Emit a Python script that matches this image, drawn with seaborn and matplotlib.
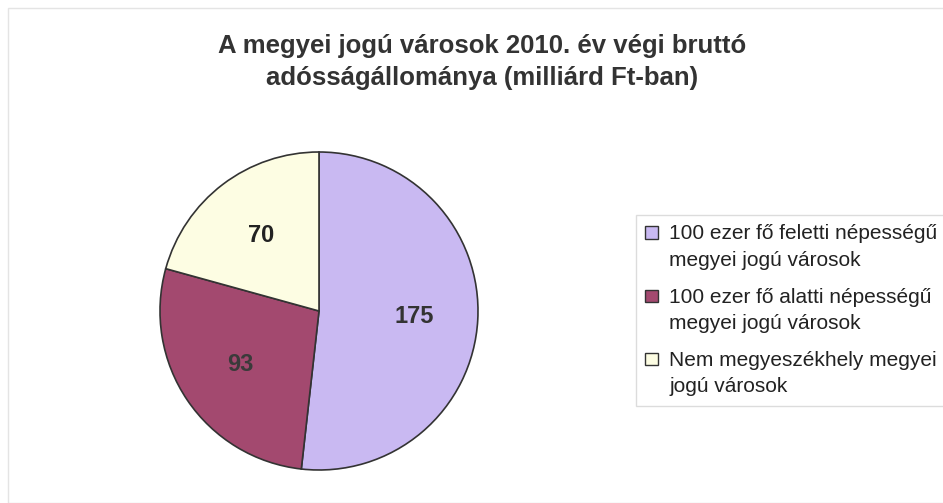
import matplotlib
matplotlib.use("Agg")
import matplotlib.pyplot as plt
import seaborn as sns
from matplotlib.patches import Rectangle
from matplotlib.legend_handler import HandlerPatch

sns.set_theme(style="white")
plt.rcParams["font.family"] = ["Liberation Sans", "DejaVu Sans"]

categories = [
    "100 ezer fő feletti népességű\nmegyei jogú városok",
    "100 ezer fő alatti népességű\nmegyei jogú városok",
    "Nem megyeszékhely megyei\njogú városok",
]
values = [175, 93, 70]
colors = ["#c9b9f2", "#a3496f", "#fdfde3"]
label_colors = ["#333333", "#3a3a3a", "#222222"]

W, H = 943, 503
fig = plt.figure(figsize=(W / 100, H / 100), dpi=100)
fig.patch.set_facecolor("white")

# faint frame round the chart area
fig.add_artist(Rectangle((8 / W, 0), 1, 1 - 8 / H, transform=fig.transFigure,
                         fill=False, edgecolor="#e4e4e4", linewidth=1))

fig.text(482 / W, 1 - 62 / H,
         "A megyei jogú városok 2010. év végi bruttó\nadósságállománya (milliárd Ft-ban)",
         ha="center", va="center", fontsize=18.5, fontweight="bold",
         color="#333333", linespacing=1.45)

# pie: centre (319, 311), radius ~159 px
cx, cy, r = 319, 311, 159
ax = fig.add_axes([(cx - r) / W, (H - cy - r) / H, 2 * r / W, 2 * r / H])
wedges, texts, autotexts = ax.pie(
    values,
    colors=colors,
    startangle=90,
    counterclock=False,
    autopct=lambda p: f"{p * sum(values) / 100:.0f}",
    pctdistance=0.6,
    wedgeprops=dict(edgecolor="#333333", linewidth=1.2),
)
for t, c in zip(autotexts, label_colors):
    t.set_fontsize(17)
    t.set_fontweight("bold")
    t.set_color(c)
ax.set_xlim(-1, 1)
ax.set_ylim(-1, 1)
ax.set_aspect("equal")


def top_square(legend, orig_handle, xdescent, ydescent, width, height, fontsize):
    # put the square next to the first line of the label
    return Rectangle((-xdescent, -ydescent + 0.72 * fontsize), width, width)


leg = fig.legend(
    wedges, categories,
    loc="upper left",
    bbox_to_anchor=(636 / W, 1 - 215 / H),
    fontsize=15,
    frameon=True,
    fancybox=False,
    edgecolor="#d4d4d4",
    handlelength=0.6,
    handleheight=0.6,
    handletextpad=0.55,
    labelspacing=0.85,
    borderpad=0.45,
    borderaxespad=0,
    handler_map={w: HandlerPatch(patch_func=top_square) for w in wedges},
)
for h in leg.legend_handles:
    h.set_edgecolor("#333333")
    h.set_linewidth(1)
for t in leg.get_texts():
    t.set_color("#222222")
    t.set_linespacing(1.5)
leg.get_frame().set_linewidth(1)

fig.savefig("out.png", dpi=100)
